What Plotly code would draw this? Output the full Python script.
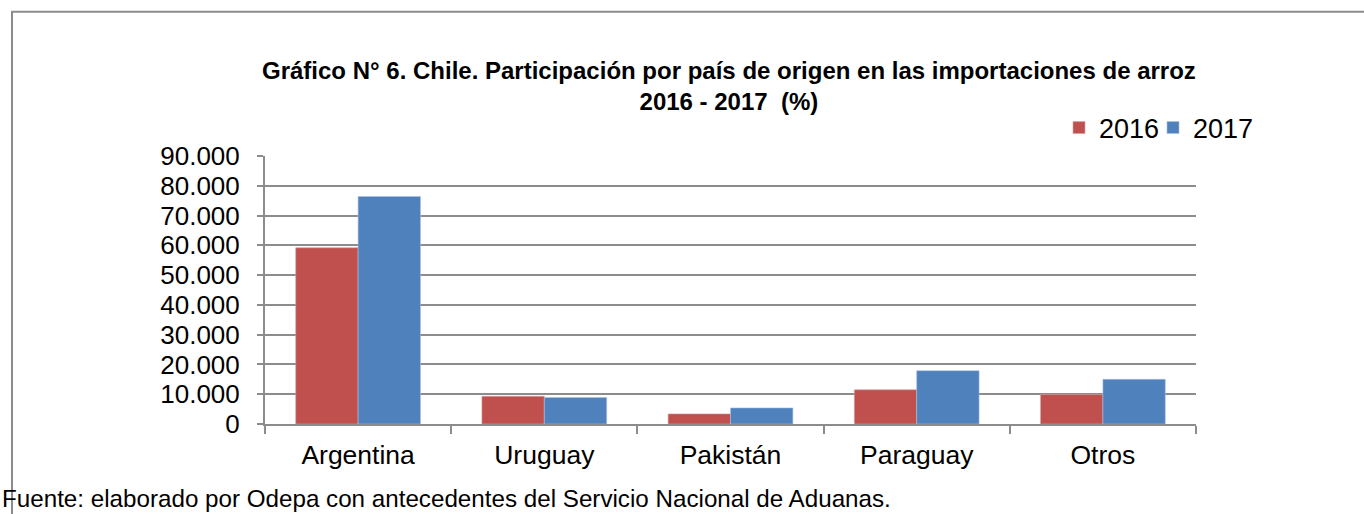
import plotly.graph_objects as go

categories = ["Argentina", "Uruguay", "Pakistán", "Paraguay", "Otros"]
values_2016 = [59.2, 9.3, 3.4, 11.5, 9.9]
values_2017 = [76.4, 8.9, 5.4, 17.9, 15.0]
series_names = ["2016", "2017"]
y_tickvals = [0, 10, 20, 30, 40, 50, 60, 70, 80, 90]
y_ticktext = ["0", "10.000", "20.000", "30.000", "40.000", "50.000",
              "60.000", "70.000", "80.000", "90.000"]
title_text = ("<b>Gráfico N° 6. Chile. Participación por país de origen en las importaciones de arroz"
              "<br>2016 - 2017  (%)</b>")
source_text = "Fuente: elaborado por Odepa con antecedentes del Servicio Nacional de Aduanas."

FONT = "Arial, Liberation Sans, sans-serif"
GRID = "#8c8c8c"

W, H = 1364, 514
L, R, T, B = 265, 1196, 156, 424.3
pw, ph = R - L, B - T

def px_x(x):
    return (x - L) / pw

def px_y(y):
    return (B - y) / ph

fig = go.Figure()
fig.add_trace(go.Bar(x=categories, y=values_2016, name=series_names[0], legend="legend",
                     marker=dict(color="#C0504D", line=dict(color="#d9a3a1", width=0.6))))
fig.add_trace(go.Bar(x=categories, y=values_2017, name=series_names[1], legend="legend2",
                     marker=dict(color="#4F81BD", line=dict(color="#a9c1e0", width=0.6))))

legend_common = dict(orientation="h", y=px_y(128), xanchor="left", yanchor="middle",
                     font=dict(size=27), bgcolor="rgba(0,0,0,0)")

fig.update_layout(
    width=W, height=H,
    margin=dict(l=L, r=W - R, t=T, b=H - B, pad=0),
    paper_bgcolor="white", plot_bgcolor="white",
    font=dict(family=FONT, color="black", size=26),
    barmode="group", bargap=0.33, bargroupgap=0,
    showlegend=True,
    legend=dict(x=px_x(1059), **legend_common),
    legend2=dict(x=px_x(1153), **legend_common),
    xaxis=dict(showline=True, linecolor=GRID, linewidth=2, ticks="outside",
               tickson="boundaries", ticklen=8, tickcolor=GRID, tickwidth=2,
               ticklabelstandoff=6,
               tickfont=dict(size=26.5), showgrid=False, fixedrange=True),
    yaxis=dict(range=[0, 90], tickvals=y_tickvals, ticktext=y_ticktext,
               showline=True, linecolor=GRID, linewidth=2, ticks="outside",
               ticklen=6, tickcolor=GRID, tickwidth=2, showgrid=True,
               ticklabelstandoff=12,
               gridcolor=GRID, gridwidth=2, zeroline=False,
               tickfont=dict(size=26), fixedrange=True),
    annotations=[
        dict(text=title_text, xref="paper", yref="paper", x=px_x(729), y=px_y(86),
             xanchor="center", yanchor="middle", showarrow=False,
             font=dict(size=24, family=FONT, color="black")),
        dict(text=source_text, xref="paper", yref="paper", x=px_x(0), y=px_y(499),
             xanchor="left", yanchor="middle", showarrow=False,
             font=dict(size=24.2, family=FONT, color="black")),
    ],
    shapes=[
        dict(type="line", xref="paper", yref="paper", x0=px_x(12), x1=px_x(12),
             y0=px_y(11), y1=px_y(530), line=dict(color=GRID, width=2)),
        dict(type="line", xref="paper", yref="paper", x0=px_x(11), x1=px_x(1370),
             y0=px_y(11.5), y1=px_y(11.5), line=dict(color=GRID, width=2)),
    ],
)

fig.write_html("out.html", config={"displayModeBar": False},
               post_script="document.body.style.margin='0';document.body.style.overflow='hidden';")
